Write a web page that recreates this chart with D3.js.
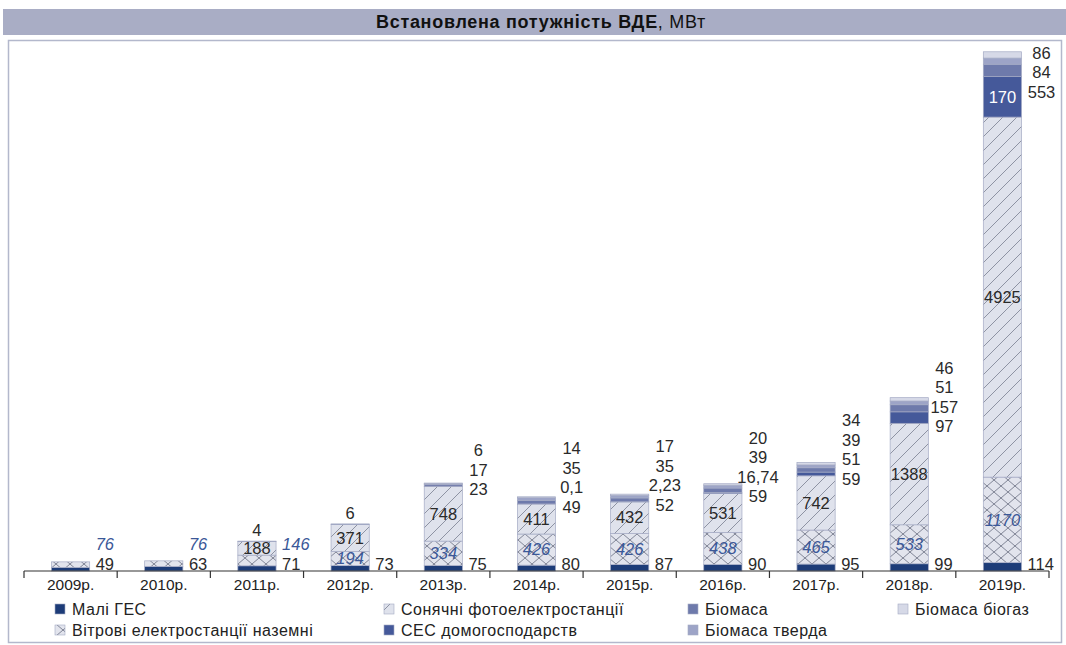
<!DOCTYPE html>
<html lang="uk">
<head>
<meta charset="utf-8">
<script src="https://cdn.jsdelivr.net/npm/d3@7/dist/d3.min.js"></script>
<style>
  html, body { margin: 0; padding: 0; background: #ffffff; }
  svg { display: block; font-family: "Liberation Sans", Arial, sans-serif; }
</style>
</head>
<body>
<svg id="chart" width="1066" height="645"></svg>
<script>
// Встановлена потужність ВДЕ, МВт — by year and source
const years = ["2009р.", "2010р.", "2011р.", "2012р.", "2013р.", "2014р.", "2015р.", "2016р.", "2017р.", "2018р.", "2019р."];
const smallHydro   = [49, 63, 71, 73, 75, 80, 87, 90, 95, 99, 114];
const wind         = [76, 76, 146, 194, 334, 426, 426, 438, 465, 533, 1170];
const solar        = [0, 0, 188, 371, 748, 411, 432, 531, 742, 1388, 4925];
const householdPV  = [0, 0, 0, 0, 0, 0.1, 2.23, 16.74, 51, 157, 553];
const biomass      = [0, 0, 4, 6, 23, 49, 52, 59, 59, 97, 170];
const biomassSolid = [0, 0, 0, 0, 17, 35, 35, 39, 39, 51, 84];
const biogas       = [0, 0, 0, 0, 6, 14, 17, 20, 34, 46, 86];

const seriesNames = {
  hydro: "Малі ГЕС",
  wind: "Вітрові електростанції наземні",
  solar: "Сонячні фотоелектростанції",
  household: "СЕС домогосподарств",
  biomass: "Біомаса",
  solid: "Біомаса тверда",
  biogas: "Біомаса біогаз"
};

const keys = ["hydro", "wind", "solar", "household", "biomass", "solid", "biogas"];
const rows = years.map((yr, i) => ({
  year: yr,
  hydro: smallHydro[i], wind: wind[i], solar: solar[i],
  household: householdPV[i], biomass: biomass[i], solid: biomassSolid[i], biogas: biogas[i]
}));

const svg = d3.select("#chart");
const defs = svg.append("defs");

// hatch fills
const solarPat = defs.append("pattern").attr("id", "hatch-solar")
  .attr("patternUnits", "userSpaceOnUse").attr("width", 14).attr("height", 14);
solarPat.append("rect").attr("width", 14).attr("height", 14).attr("fill", "#dfe2ec");
solarPat.append("path").attr("d", "M0,14 L14,0 M-3.5,3.5 L3.5,-3.5 M10.5,17.5 L17.5,10.5")
  .attr("stroke", "#858a9b").attr("stroke-width", 0.9);

const windPat = defs.append("pattern").attr("id", "hatch-wind")
  .attr("patternUnits", "userSpaceOnUse").attr("width", 14).attr("height", 12);
windPat.append("rect").attr("width", 14).attr("height", 12).attr("fill", "#e2e4ed");
windPat.append("path").attr("d", "M0,0 L14,12 M0,12 L14,0")
  .attr("stroke", "#7b8091").attr("stroke-width", 0.95);

const fills = {
  hydro: "#1d3c78",
  wind: "url(#hatch-wind)",
  solar: "url(#hatch-solar)",
  household: "#45599a",
  biomass: "#6e7aab",
  solid: "#9da4c7",
  biogas: "#d6d9e7"
};

// title bar and frame
svg.append("rect").attr("x", 3).attr("y", 9).attr("width", 1063).attr("height", 26)
  .attr("fill", "#a9adc5");
const title = svg.append("text").attr("x", 541).attr("y", 22).attr("dy", "0.35em")
  .attr("text-anchor", "middle").attr("font-size", 18).attr("letter-spacing", 0.7).attr("fill", "#111");
title.append("tspan").attr("font-weight", "bold").text("Встановлена потужність ВДЕ");
title.append("tspan").text(", МВт");

svg.append("rect").attr("x", 8.5).attr("y", 40.5).attr("width", 1053).attr("height", 602)
  .attr("fill", "none").attr("stroke", "#b3b8cc").attr("stroke-width", 1.5);

// scales
const x = d3.scaleBand().domain(years).range([24, 1049]).paddingInner(0.59).paddingOuter(0.295);
const y = d3.scaleLinear().domain([0, 7400]).range([571, 30]);

const stacked = d3.stack().keys(keys)(rows);

const g = svg.append("g");
g.selectAll("g.layer").data(stacked).join("g").attr("class", "layer")
  .attr("fill", d => fills[d.key])
  .selectAll("rect").data(d => d.filter(s => s[1] > s[0]))
  .join("rect")
  .attr("x", d => x(d.data.year))
  .attr("width", x.bandwidth())
  .attr("y", d => y(d[1]))
  .attr("height", d => y(d[0]) - y(d[1]))
  .attr("stroke", "#a4aac4").attr("stroke-width", 0.7);

// axis
const axis = d3.axisBottom(x).tickSize(0).tickPadding(8);
const axG = svg.append("g").attr("transform", `translate(0,${y(0)})`).call(axis);
axG.select(".domain").remove();
axG.append("line").attr("x1", 24).attr("x2", 1049).attr("stroke", "#333").attr("stroke-width", 1.2);
const step = x.step();
axG.selectAll("line.sep").data(d3.range(years.length + 1)).join("line").attr("class", "sep")
  .attr("x1", i => 24 + i * step).attr("x2", i => 24 + i * step)
  .attr("y1", 0).attr("y2", 7).attr("stroke", "#333").attr("stroke-width", 1.2);
axG.selectAll(".tick text").attr("font-size", 15.5).attr("fill", "#222")
  .attr("font-family", "'Liberation Sans', Arial, sans-serif");

// value labels
const fmt = v => String(v).replace(".", ",");
const lab = svg.append("g").attr("font-size", 16.5).attr("fill", "#2a2a2a");
const addText = (px, py, txt, opts = {}) => {
  const t = lab.append("text").attr("x", px).attr("y", py).attr("dy", "0.35em")
    .attr("text-anchor", opts.anchor || "start").text(txt);
  if (opts.italic) t.attr("font-style", "italic");
  if (opts.fill) t.attr("fill", opts.fill);
  return t;
};
const windBlue = "#3b5898";

rows.forEach((r, i) => {
  const x0 = x(r.year), bw = x.bandwidth(), xr = x0 + bw, xc = x0 + bw / 2;
  const hydroY = y(0) - 7;
  addText(xr + 6, hydroY, fmt(r.hydro));

  const w0 = y(r.hydro), w1 = y(r.hydro + r.wind);
  if (w0 - w1 >= 14) {
    addText(xc, (w0 + w1) / 2, fmt(r.wind), { anchor: "middle", italic: true, fill: windBlue });
  } else {
    addText(xr + 6, hydroY - 19.5, fmt(r.wind), { italic: true, fill: windBlue });
  }

  const solarTopVal = r.hydro + r.wind + r.solar;
  if (r.solar > 0) {
    addText(xc, (y(r.hydro + r.wind) + y(solarTopVal)) / 2, fmt(r.solar), { anchor: "middle" });
  }

  const total = solarTopVal + r.household + r.biomass + r.solid + r.biogas;
  const column = [["biomass", r.biomass], ["household", r.household], ["solid", r.solid], ["biogas", r.biogas]]
    .filter(d => d[1] > 0);
  if (column.length === 1) {
    addText(xc, y(total) - 11, fmt(column[0][1]), { anchor: "middle" });
  } else if (column.length > 1) {
    const hhTop = y(solarTopVal + r.household), hhBot = y(solarTopVal);
    if (hhBot - hhTop > 25) {
      // tall household band carries the biomass figure; the rest hang from the bar top
      addText(xc, (hhTop + hhBot) / 2, fmt(r.biomass), { anchor: "middle", fill: "#ffffff" });
      const rest = column.filter(d => d[0] !== "biomass");
      rest.forEach((d, k) => {
        addText(xr + 20, y(total) + 1 + (rest.length - 1 - k) * 19.5, fmt(d[1]), { anchor: "middle" });
      });
    } else {
      column.forEach((d, k) => {
        addText(xr + 16, y(solarTopVal) + 3 - k * 19.5, fmt(d[1]), { anchor: "middle" });
      });
    }
  }
});

// legend
const legendItems = [
  ["hydro", 55, 609], ["wind", 55, 630],
  ["solar", 384, 609], ["household", 384, 630],
  ["biomass", 688, 609], ["solid", 688, 630],
  ["biogas", 898, 609]
];
const leg = svg.append("g").attr("font-size", 16).attr("letter-spacing", 0.5).attr("fill", "#222");
legendItems.forEach(([k, lx, ly]) => {
  leg.append("rect").attr("x", lx).attr("y", ly - 5).attr("width", 10).attr("height", 10)
    .attr("fill", fills[k]).attr("stroke", "#a4aac4").attr("stroke-width", 0.6);
  leg.append("text").attr("x", lx + 17).attr("y", ly).attr("dy", "0.35em").text(seriesNames[k]);
});
</script>
</body>
</html>
